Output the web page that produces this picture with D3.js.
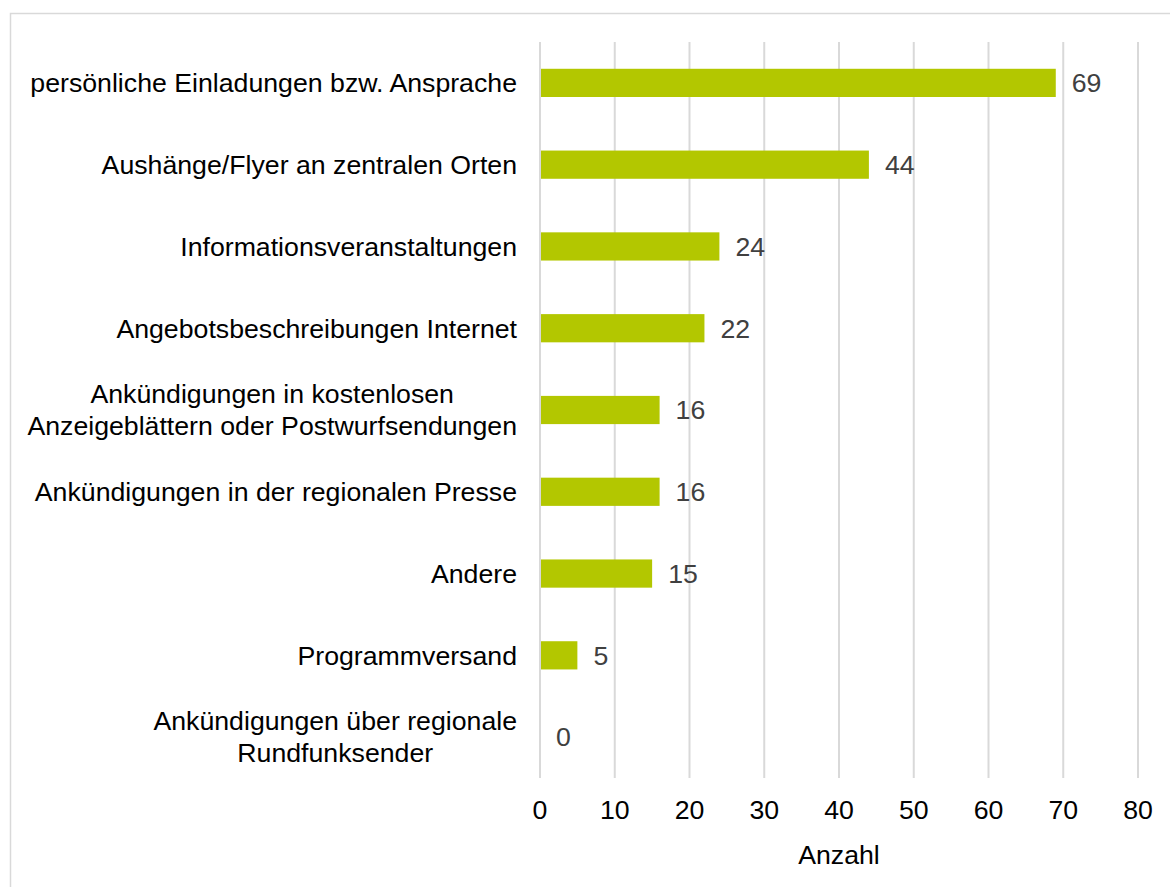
<!DOCTYPE html>
<html><head><meta charset="utf-8">
<script src="https://cdn.jsdelivr.net/npm/d3@7"></script>
<style>body{margin:0;background:#fff}svg{display:block;font-family:"Liberation Sans",Arial,sans-serif}</style>
</head><body><svg id="c" width="1170" height="887"></svg>
<script>
const categories = [
  ["persönliche Einladungen bzw. Ansprache"],
  ["Aushänge/Flyer an zentralen Orten"],
  ["Informationsveranstaltungen"],
  ["Angebotsbeschreibungen Internet"],
  ["Ankündigungen in kostenlosen","Anzeigeblättern oder Postwurfsendungen"],
  ["Ankündigungen in der regionalen Presse"],
  ["Andere"],
  ["Programmversand"],
  ["Ankündigungen über regionale","Rundfunksender"]
];
const values = [69, 44, 24, 22, 16, 16, 15, 5, 0];
const xTicks = [0, 10, 20, 30, 40, 50, 60, 70, 80];
const axisTitle = "Anzahl";

const FS = 26.7;
const svg = d3.select("#c");
svg.append("rect").attr("x",10.5).attr("y",13.5).attr("width",1170).attr("height",900)
  .attr("fill","none").attr("stroke","#d9d9d9").attr("stroke-width",1.5);

const x = d3.scaleLinear().domain([0,80]).range([540,1138]);
const y = d3.scaleBand().domain(d3.range(categories.length)).range([42,778]).paddingInner(0.655).paddingOuter(0.3275);

svg.append("g").selectAll("line").data(xTicks).join("line")
  .attr("x1",d=>x(d)).attr("x2",d=>x(d)).attr("y1",42).attr("y2",778)
  .attr("stroke","#d9d9d9").attr("stroke-width",2);

svg.append("g").selectAll("rect").data(values).join("rect")
  .attr("x",x(0)+1).attr("y",(d,i)=>y(i)).attr("width",d=>Math.max(0,x(d)-x(0)-1)).attr("height",y.bandwidth())
  .attr("fill","#b3c700");

svg.append("g").selectAll("text").data(values).join("text")
  .attr("x",d=>x(d)+16).attr("y",(d,i)=>y(i)+y.bandwidth()/2).attr("dy","0.35em")
  .attr("font-size",FS).attr("fill","#404040").text(d=>d);

const labG = svg.append("g");
categories.forEach((d,i)=>{
  const cy = y(i)+y.bandwidth()/2;
  const t = labG.append("text").attr("font-size",FS).attr("fill","#000").attr("text-anchor","middle");
  const n = d.length;
  const spans = d.map((s,j)=>t.append("tspan").attr("y",cy+(j-(n-1)/2)*32).attr("dy","0.35em").text(s));
  const maxW = d3.max(spans, sp=>sp.node().getComputedTextLength());
  spans.forEach(sp=>sp.attr("x",517-maxW/2));
});

svg.append("g").selectAll("text").data(xTicks).join("text")
  .attr("x",d=>x(d)).attr("y",810).attr("dy","0.35em").attr("text-anchor","middle")
  .attr("font-size",FS).attr("fill","#000").text(d=>d);

svg.append("text").attr("x",(x(0)+x(80))/2).attr("y",855).attr("dy","0.35em").attr("text-anchor","middle")
  .attr("font-size",FS).attr("fill","#000").text(axisTitle);
</script></body></html>
